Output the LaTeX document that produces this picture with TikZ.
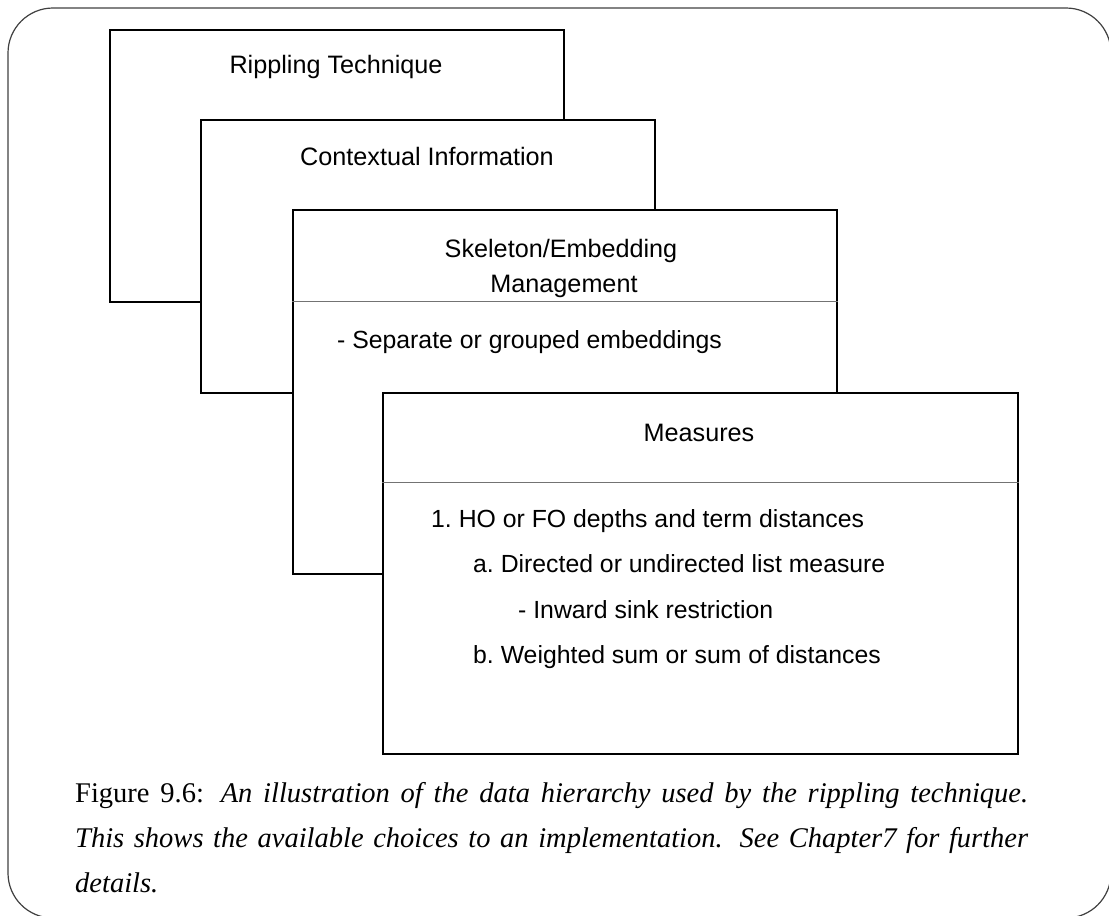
\documentclass[tikz,border=0pt]{standalone}
\usepackage{fontspec}
\setmainfont{Liberation Serif}
\newfontfamily\boxfont{Liberation Sans}
\begin{document}
\begin{tikzpicture}[x=1pt,y=-1pt,
  box/.style={draw=black, line width=2.2pt, fill=white, anchor=north west, inner sep=0pt},
  sep/.style={draw=black!55, line width=1pt},
  lbl/.style={font=\boxfont\frenchspacing\fontsize{25.2}{30}\selectfont, anchor=base, inner sep=0pt},
  lst/.style={lbl, font=\boxfont\frenchspacing\fontsize{24.8}{30}\selectfont, anchor=base west},
  captxt/.style={font=\nonfrenchspacing\fontsize{28.5}{34}\selectfont, anchor=base west, inner sep=0pt},
  framebox/.style={draw=black!75, line width=1.2pt, rounded corners=45pt}]
\useasboundingbox (0,0) rectangle (1109,916);
\begin{scope}
\clip (0,0) rectangle (1109,916);
\draw[framebox] (8,8) rectangle (1111,918);
\end{scope}
% boxes
\node[box, minimum width=454pt, minimum height=272pt] (b1) at (109,29) {};
\node[box, minimum width=454pt, minimum height=273pt] (b2) at (200,119) {};
\node[box, minimum width=544pt, minimum height=364pt] (b3) at (292,209) {};
\node[box, minimum width=635pt, minimum height=361pt] (b4) at (382,392) {};
\coordinate (s3) at (0,301);
\coordinate (s4) at (0,482);
\draw[sep] (b3.west |- s3) -- (b3.east |- s3);
\draw[sep] (b4.west |- s4) -- (b4.east |- s4);
% labels
\node[lbl] (t1) at (336,73) {Rippling Technique};
\node[lbl] (t2) at (427,165) {Contextual Information};
\node[lbl] (t3a) at (561,257) {Skeleton/Embedding};
\node[lbl] (t3b) at (564,292) {Management};
\node[lst] (t3c) at (337,348) {- Separate or grouped embeddings};
\node[lbl] (t4) at (699,441) {Measures};
\node[lst] (l1) at (431,527) {1. HO or FO depths and term distances};
\node[lst] (l2) at (473,572) {a. Directed or undirected list measure};
\node[lst] (l3) at (518,618) {- Inward sink restriction};
\node[lst] (l4) at (473,663) {b. Weighted sum or sum of distances};
% caption
\node[captxt] (c1) at (75,802) {\makebox[953pt][s]{Figure 9.6: \textit{An illustration of the data hierarchy used by the rippling technique.}}};
\node[captxt] (c2) at (75,847) {\makebox[953pt][s]{\textit{This shows the available choices to an implementation. See Chapter7 for further}}};
\node[captxt] (c3) at (75,892) {\textit{details.}};
\end{tikzpicture}
\end{document}
